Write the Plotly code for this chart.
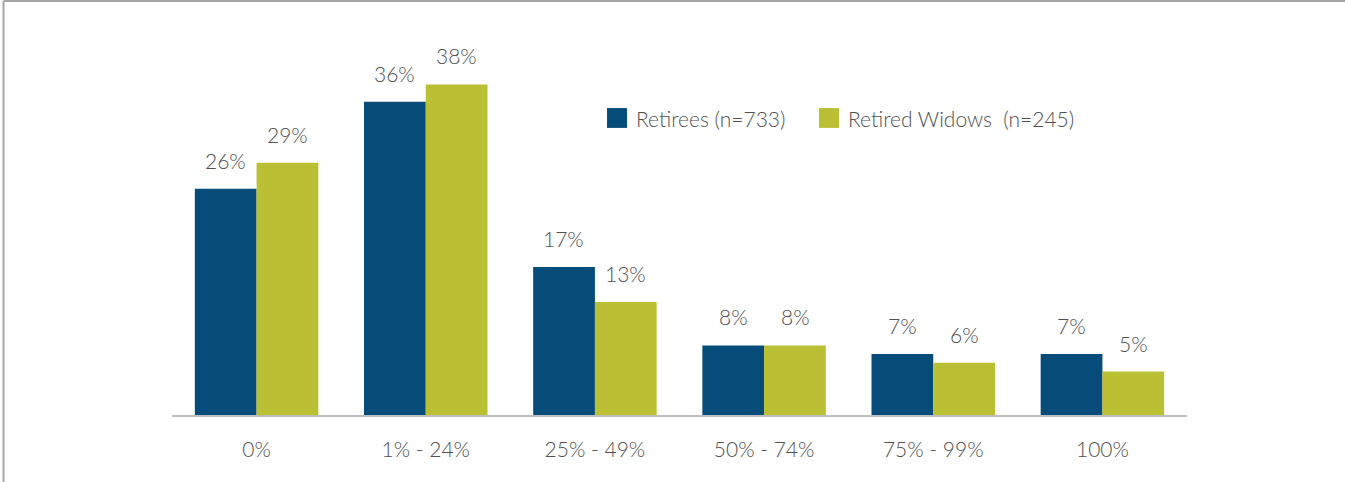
import plotly.graph_objects as go

categories = ["0%", "1% - 24%", "25% - 49%", "50% - 74%", "75% - 99%", "100%"]
retirees = [26, 36, 17, 8, 7, 7]
widows = [29, 38, 13, 8, 6, 5]
series_names = ["Retirees (n=733)", "Retired Widows  (n=245)"]
colors = ["#064C7B", "#BBBF33"]

FONT = "Lato"
TXT = "#505050"
W = 300

fig = go.Figure()
fig.add_trace(go.Bar(x=categories, y=retirees, name=series_names[0],
                     marker=dict(color=colors[0], line=dict(width=0)), showlegend=False))
fig.add_trace(go.Bar(x=categories, y=widows, name=series_names[1],
                     marker=dict(color=colors[1], line=dict(width=0)), showlegend=False))

annotations = []
for vals, shift in ((retirees, -31), (widows, 31)):
    for c, v in zip(categories, vals):
        annotations.append(dict(x=c, y=v, xref="x", yref="y", text=f"{v}%",
                                showarrow=False, yanchor="bottom", xanchor="center",
                                xshift=shift, yshift=14,
                                font=dict(family=FONT, size=21, color=TXT, weight=W)))

# manual legend
legend_items = [(0.4286, series_names[0]), (0.6374, series_names[1])]
shapes = []
for i, (x0, name) in enumerate(legend_items):
    shapes.append(dict(type="rect", xref="paper", yref="paper",
                       x0=x0, x1=x0 + 0.0197, y0=0.825, y1=0.882,
                       fillcolor=colors[i], line=dict(width=0)))
    annotations.append(dict(x=x0 + 0.0266, y=0.853, xref="paper", yref="paper",
                            text=name, showarrow=False, xanchor="left", yanchor="middle",
                            font=dict(family=FONT, size=21, color=TXT, weight=W)))

# outer frame (top and left edges)
shapes.append(dict(type="line", xref="paper", yref="paper", x0=-0.166, x1=1.2,
                   y0=1.1897, y1=1.1897, line=dict(color="#A6A6A6", width=2)))
shapes.append(dict(type="line", xref="paper", yref="paper", x0=-0.166, x1=-0.166,
                   y0=1.1897, y1=-0.25, line=dict(color="#A6A6A6", width=2)))

fig.update_layout(
    width=1345, height=482,
    margin=dict(l=172, r=158, t=67, b=67),
    paper_bgcolor="white", plot_bgcolor="white",
    barmode="group", bargap=0.27, bargroupgap=0,
    xaxis=dict(showline=True, linecolor="#BFBFBF", linewidth=2, showgrid=False,
               ticks="", ticklabelstandoff=15,
               tickfont=dict(family=FONT, size=21, color=TXT, weight=W)),
    yaxis=dict(range=[0, 40], visible=False, showgrid=False, zeroline=False),
    annotations=annotations, shapes=shapes,
    showlegend=False,
)

fig.write_html("out.html")
